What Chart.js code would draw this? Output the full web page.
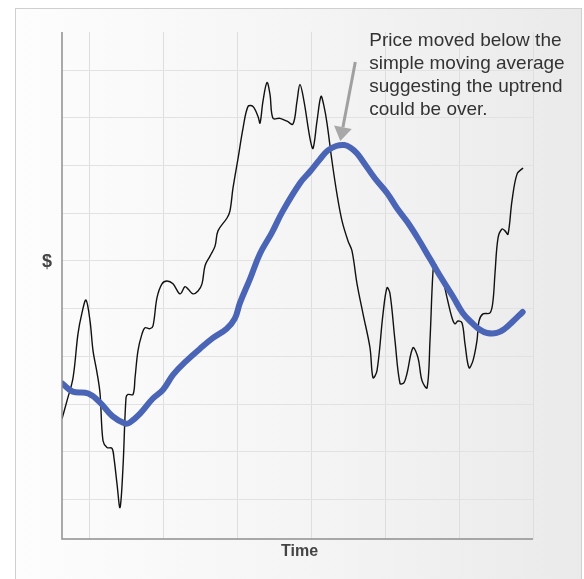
<!DOCTYPE html>
<html>
<head>
<meta charset="utf-8">
<script src="https://cdn.jsdelivr.net/npm/chart.js@4/dist/chart.umd.min.js"></script>
<style>
  html,body{margin:0;padding:0;background:#fff;}
  #wrap{position:absolute;left:0;top:0;width:584px;height:579px;}
</style>
</head>
<body>
<div id="wrap"><canvas id="c" width="584" height="579"></canvas></div>
<script>
// ---- data (time in grid units, price in grid units) ----
const priceTime = [-0.365,-0.297,-0.216,-0.149,-0.095,-0.041,0.014,0.054,0.108,0.149,0.189,0.243,0.311,0.338,0.378,0.419,0.459,0.5,0.527,0.595,0.622,0.662,0.716,0.757,0.824,0.865,0.919,0.986,1.054,1.135,1.23,1.297,1.338,1.405,1.473,1.527,1.568,1.635,1.703,1.743,1.865,1.905,1.946,2.014,2.081,2.149,2.216,2.284,2.311,2.351,2.405,2.446,2.486,2.581,2.676,2.757,2.811,2.851,2.905,2.986,3.027,3.081,3.135,3.176,3.216,3.284,3.351,3.419,3.5,3.554,3.622,3.703,3.797,3.838,3.892,3.973,4.027,4.068,4.135,4.203,4.257,4.297,4.378,4.446,4.5,4.568,4.608,4.649,4.676,4.716,4.784,4.838,4.905,4.946,4.986,5.041,5.081,5.135,5.189,5.243,5.270,5.324,5.419,5.459,5.486,5.527,5.581,5.622,5.662,5.716,5.784,5.865];
const priceValues = [1.69,2.07,2.55,3.47,3.91,4.18,3.74,3.12,2.66,2.22,1.23,1.09,1.07,0.86,0.33,-0.17,0.67,2.13,2.20,2.20,2.55,3.12,3.47,3.60,3.58,3.64,4.23,4.52,4.58,4.52,4.31,4.46,4.41,4.31,4.37,4.52,4.90,5.10,5.31,5.63,5.90,6.05,6.53,7.15,7.78,8.24,8.24,8.03,7.89,8.35,8.74,8.49,7.99,7.99,7.93,7.87,8.35,8.70,8.35,7.57,7.36,7.93,8.45,8.24,7.89,7.09,6.40,5.84,5.42,5.21,4.52,3.89,3.18,2.55,2.70,3.89,4.44,4.31,3.33,2.43,2.45,2.64,3.18,2.97,2.49,2.34,3.33,4.79,4.94,4.79,4.58,4.23,3.81,3.68,3.74,3.70,3.26,2.76,2.91,3.33,3.74,3.89,3.91,4.16,4.73,5.48,5.67,5.63,5.56,6.26,6.82,6.95];
const smaTime = [-0.36,-0.22,-0.01,0.15,0.32,0.49,0.55,0.69,0.86,1.00,1.14,1.32,1.50,1.68,1.86,1.97,2.04,2.18,2.31,2.47,2.62,2.85,2.99,3.12,3.23,3.34,3.45,3.53,3.62,3.70,3.86,4.03,4.16,4.30,4.45,4.61,4.77,4.92,5.05,5.19,5.28,5.38,5.51,5.62,5.72,5.86];
const smaValues = [2.43,2.26,2.22,2.03,1.74,1.59,1.61,1.80,2.11,2.30,2.62,2.91,3.16,3.39,3.58,3.79,4.12,4.64,5.15,5.59,6.05,6.63,6.88,7.13,7.32,7.41,7.43,7.38,7.26,7.09,6.74,6.42,6.11,5.82,5.46,5.04,4.62,4.25,3.91,3.68,3.56,3.49,3.49,3.58,3.72,3.93];
const xGridTicks = [0,1,2,3,4,5,6];
const yGridTicks = [0,1,2,3,4,5,6,7,8,9];
const xAxisTitle = "Time";
const yAxisTitle = "$";
const annotationLines = ["Price moved below the","simple moving average","suggesting the uptrend","could be over."];
const annotationPointIndex = 26; // SMA peak the arrow points at

const pricePts = priceTime.map((t,i)=>({x:t,y:priceValues[i]}));
const smaPts = smaTime.map((t,i)=>({x:t,y:smaValues[i]}));

const framePlugin = {
  id:'frame',
  beforeDraw(chart){
    const ctx = chart.ctx;
    ctx.save();
    ctx.fillStyle='#ffffff';
    ctx.fillRect(0,0,chart.width,chart.height);
    const g = ctx.createLinearGradient(15,0,582,0);
    g.addColorStop(0,'#fdfdfd');
    g.addColorStop(0.5,'#f5f5f5');
    g.addColorStop(1,'#eaeaea');
    ctx.fillStyle=g;
    ctx.fillRect(15,8,567,571);
    ctx.strokeStyle='#cfcfcf';
    ctx.lineWidth=1;
    ctx.strokeRect(15.5,8.5,566,575);
    ctx.restore();
  },
  afterDraw(chart){
    const ctx = chart.ctx;
    const a = chart.chartArea;
    ctx.save();
    // axis lines
    ctx.strokeStyle='#8f8f8f';
    ctx.lineWidth=1.5;
    ctx.beginPath();
    ctx.moveTo(a.left, a.top);
    ctx.lineTo(a.left, a.bottom);
    ctx.lineTo(a.right, a.bottom);
    ctx.stroke();
    // axis titles
    ctx.fillStyle='#444';
    ctx.font='bold 16px "Liberation Sans", Arial, sans-serif';
    ctx.textAlign='center';
    ctx.textBaseline='middle';
    ctx.fillText(xAxisTitle,(a.left+a.right)/2+2, a.bottom+13);
    ctx.font='bold 18px "Liberation Sans", Arial, sans-serif';
    ctx.fillText(yAxisTitle, a.left-15, (a.top+a.bottom)/2-23);
    // annotation text
    ctx.fillStyle='#333';
    ctx.font='19px "Liberation Sans", Arial, sans-serif';
    ctx.textAlign='left';
    ctx.textBaseline='alphabetic';
    const xs = chart.scales.x, ys = chart.scales.y;
    const tipX = xs.getPixelForValue(smaTime[annotationPointIndex]) - 4;
    const tipY = ys.getPixelForValue(smaValues[annotationPointIndex]) - 4;
    const tx = tipX + 29, ty = 46;
    annotationLines.forEach((l,i)=>ctx.fillText(l, tx, ty + i*23));
    // arrow
    const sx = tipX + 15, sy = 62;
    const ang = Math.atan2(tipY - sy, tipX - sx);
    const headLen = 14, headW = 9;
    const bx = tipX - Math.cos(ang)*headLen, by = tipY - Math.sin(ang)*headLen;
    ctx.strokeStyle='#a0a0a0';
    ctx.lineWidth=3;
    ctx.beginPath();
    ctx.moveTo(sx,sy);
    ctx.lineTo(bx,by);
    ctx.stroke();
    ctx.fillStyle='#a8a8a8';
    ctx.beginPath();
    ctx.moveTo(tipX,tipY);
    ctx.lineTo(bx + Math.sin(ang)*headW, by - Math.cos(ang)*headW);
    ctx.lineTo(bx - Math.sin(ang)*headW, by + Math.cos(ang)*headW);
    ctx.closePath();
    ctx.fill();
    ctx.restore();
  }
};

new Chart(document.getElementById('c'),{
  type:'line',
  data:{
    datasets:[
      {label:'Price',data:pricePts,borderColor:'#111',borderWidth:1.4,pointRadius:0,tension:0.35,fill:false,order:2},
      {label:'Simple moving average',data:smaPts,borderColor:'#4a64b6',borderWidth:6,pointRadius:0,tension:0.4,fill:false,order:1,borderCapStyle:'round',borderJoinStyle:'round'}
    ]
  },
  options:{
    responsive:false,
    animation:false,
    devicePixelRatio:1,
    layout:{padding:{left:62,right:51,top:32,bottom:40}},
    plugins:{legend:{display:false},tooltip:{enabled:false}},
    scales:{
      x:{type:'linear',min:-0.365,max:6,
         afterBuildTicks:(s)=>{s.ticks=xGridTicks.map(v=>({value:v}));},
         afterFit:(s)=>{s.height=0;},
         ticks:{display:false},
         border:{display:false},
         grid:{color:'#dedede',lineWidth:1,drawTicks:false,tickLength:0}},
      y:{type:'linear',min:-0.83,max:9.8,
         afterBuildTicks:(s)=>{s.ticks=yGridTicks.map(v=>({value:v}));},
         afterFit:(s)=>{s.width=0;},
         ticks:{display:false},
         border:{display:false},
         grid:{color:'#e2e2e2',lineWidth:1,drawTicks:false,tickLength:0}}
    }
  },
  plugins:[framePlugin]
});
</script>
</body>
</html>
